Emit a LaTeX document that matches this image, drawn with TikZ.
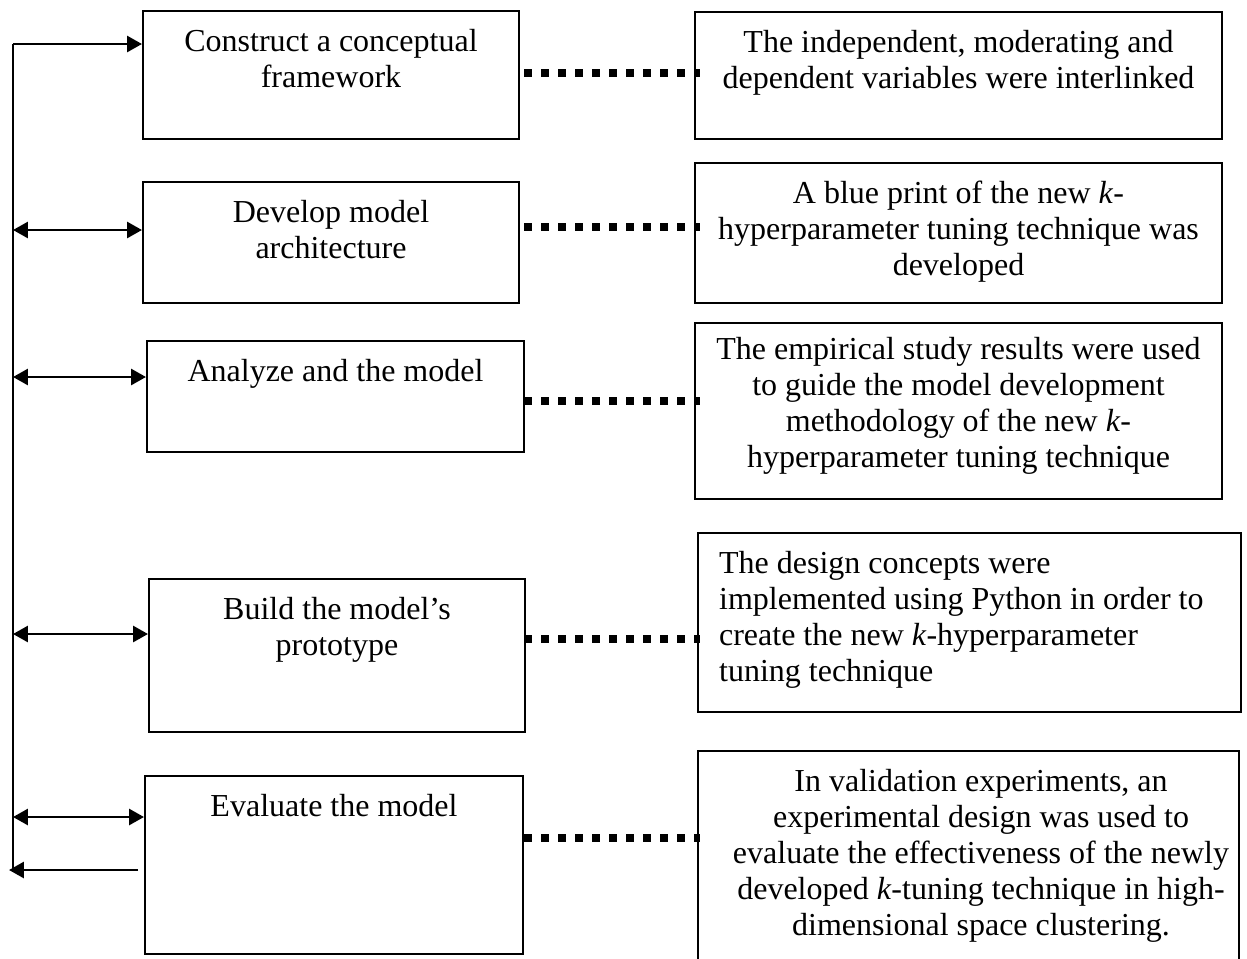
\documentclass[tikz,border=0pt]{standalone}
\usepackage{fontspec}
\setmainfont{Liberation Serif}
\usetikzlibrary{arrows.meta}

\begin{document}
\begin{tikzpicture}[x=0.375pt,y=-0.375pt,>={Triangle[length=5.6pt,width=6pt]},
  stage/.style={draw,line width=0.75pt,inner sep=0pt,anchor=north west,text height=15pt,font=\fontsize{12pt}{13.5pt}\selectfont},
  link/.style={line width=1pt},
  dotlink/.style={line width=3pt,dash pattern=on 3pt off 3.375pt}]
\useasboundingbox (0,0) rectangle (1247,958);

% steps
\node[stage,minimum width=141pt,minimum height=48pt,text depth=33pt] (l1) at (142,10) {\begin{tabular}[t]{@{}c@{}}Construct a conceptual\\framework\end{tabular}};
\node[stage,minimum width=141pt,minimum height=45.375pt,text depth=30.375pt] (l2) at (142,181) {\begin{tabular}[t]{@{}c@{}}Develop model\\architecture\end{tabular}};
\node[stage,minimum width=141.375pt,minimum height=41.625pt,text depth=26.625pt] (l3) at (146,340) {\begin{tabular}[t]{@{}c@{}}Analyze and the model\end{tabular}};
\node[stage,minimum width=141pt,minimum height=57.375pt,text depth=42.375pt] (l4) at (148,578) {\begin{tabular}[t]{@{}c@{}}Build the model’s\\prototype\end{tabular}};
\node[stage,minimum width=141.75pt,minimum height=66.75pt,text depth=51.75pt] (l5) at (144,775) {\begin{tabular}[t]{@{}c@{}}Evaluate the model\end{tabular}};

% outcomes
\node[stage,minimum width=197.625pt,minimum height=47.625pt,text depth=32.625pt] (r1) at (694,11) {\begin{tabular}[t]{@{}c@{}}The independent, moderating and\\dependent variables were interlinked\end{tabular}};
\node[stage,minimum width=197.625pt,minimum height=52.5pt,text depth=37.5pt] (r2) at (694,162) {\begin{tabular}[t]{@{}c@{}}A blue print of the new \textit{k}-\\hyperparameter tuning technique was\\developed\end{tabular}};
\node[stage,minimum width=197.625pt,minimum height=66pt,text height=13.5pt,text depth=52.5pt] (r3) at (694,322) {\begin{tabular}[t]{@{}c@{}}The empirical study results were used\\to guide the model development\\methodology of the new \textit{k}-\\hyperparameter tuning technique\end{tabular}};
\node[stage,minimum width=203.625pt,minimum height=67.125pt,text depth=52.125pt] (r4) at (697,532) {\makebox[187.8pt][l]{\begin{tabular}[t]{@{}l@{}}The design concepts were\\implemented using Python in order to\\create the new \textit{k}-hyperparameter\\tuning technique\end{tabular}}};
\node[stage,minimum width=202.875pt,minimum height=80.625pt,text depth=65.625pt] (r5) at (697,750) {\hspace*{4.7pt}\begin{tabular}[t]{@{}c@{}}In validation experiments, an\\experimental design was used to\\evaluate the effectiveness of the newly\\developed \textit{k}-tuning technique in high-\\dimensional space clustering.\end{tabular}\hspace*{-4.7pt}};

% feedback spine
\coordinate (s1) at (13,44);
\coordinate (s2) at (13,230);
\coordinate (s3) at (13,377);
\coordinate (s4) at (13,634);
\coordinate (s5) at (13,817);
\coordinate (s6) at (13,870);
\coordinate (t6) at (9,870);
\coordinate (e6) at (138,870);
\draw[line width=0.75pt] (s1) -- (s6);
\draw[link,->] (s1) -- (s1 -| l1.west);
\draw[link,<->] (s2) -- (s2 -| l2.west);
\draw[link,<->] (s3) -- (s3 -| l3.west);
\draw[link,<->] (s4) -- (s4 -| l4.west);
\draw[link,<->] (s5) -- (s5 -| l5.west);
\draw[link,->] (e6) -- (t6);

% dotted links
\coordinate (d1) at (524,73);
\coordinate (d2) at (524,227);
\coordinate (d3) at (524,401);
\coordinate (d4) at (524,639);
\coordinate (d5) at (524,838);
\draw[dotlink,shorten >=-2.25pt] (d1) -- (d1 -| r1.west);
\draw[dotlink,shorten >=-2.25pt] (d2) -- (d2 -| r2.west);
\draw[dotlink,shorten >=-2.25pt] (d3) -- (d3 -| r3.west);
\draw[dotlink,shorten >=-1.1pt] (d4) -- (d4 -| r4.west);
\draw[dotlink,shorten >=-1.1pt] (d5) -- (d5 -| r5.west);
\end{tikzpicture}
\end{document}
